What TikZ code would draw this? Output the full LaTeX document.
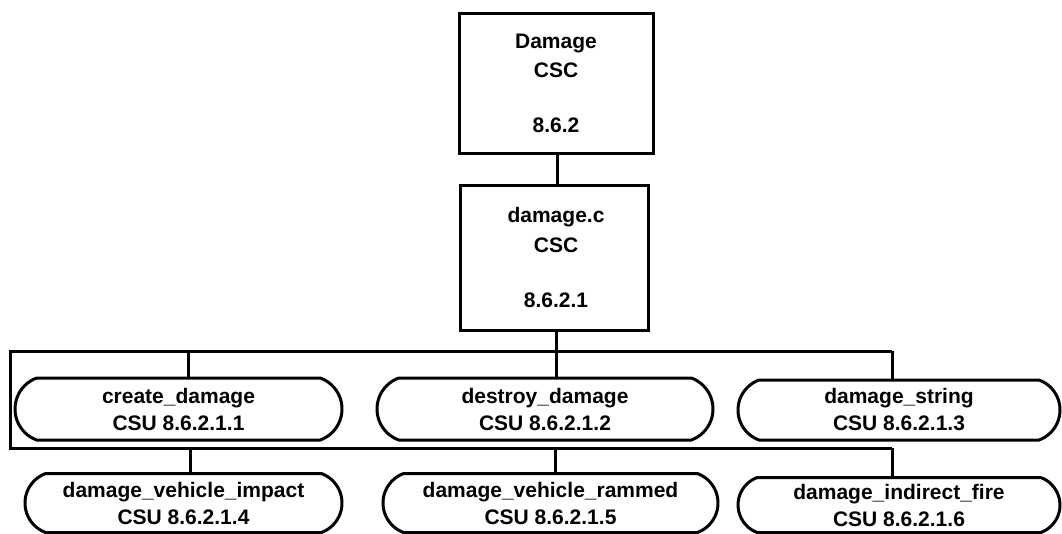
\documentclass[tikz,border=0pt]{standalone}
\usepackage{fontspec}
\setmainfont{Liberation Sans}
\usetikzlibrary{shapes.misc}
\begin{document}
\begin{tikzpicture}[x=1pt,y=-1pt,
  line width=3pt,
  lbl/.style={font=\fontsize{21}{26}\selectfont\bfseries, align=center, inner sep=0pt},
  sqbox/.style={draw, rectangle, inner sep=0pt},
  csu/.style={draw, rounded rectangle, rounded rectangle arc length=140, inner sep=0pt,
     font=\fontsize{21}{27}\selectfont\bfseries, align=center},
  wire/.style={line width=3pt}]
\useasboundingbox (0,0) rectangle (1062,533);

% CSC boxes
\node[sqbox, minimum width=194pt, minimum height=140pt] (top) at (556,83) {};
\node[lbl, anchor=base] (topa) at (556,48) {Damage};
\node[lbl, anchor=base] (topb) at (556,77) {CSC};
\node[lbl, anchor=base] (topc) at (556,132) {8.6.2};

\node[sqbox, minimum width=188pt, minimum height=145pt] (mid) at (554,257.5) {};
\node[lbl, anchor=base] (mida) at (556,222) {damage.c};
\node[lbl, anchor=base] (midb) at (556,252) {CSC};
\node[lbl, anchor=base] (midc) at (556,307) {8.6.2.1};

% CSU boxes
\node[csu, minimum width=327pt, minimum height=62pt] (cd)  at (178.5,409) {create\_damage\\CSU 8.6.2.1.1};
\node[csu, minimum width=336pt, minimum height=62pt] (dd)  at (545,409)   {destroy\_damage\\CSU 8.6.2.1.2};
\node[csu, minimum width=322pt, minimum height=60pt] (ds)  at (899,410)   {damage\_string\\CSU 8.6.2.1.3};
\node[csu, minimum width=317pt, minimum height=59pt] (dvi) at (183.5,503) {damage\_vehicle\_impact\\CSU 8.6.2.1.4};
\node[csu, minimum width=335pt, minimum height=59pt] (dvr) at (550.5,503) {damage\_vehicle\_rammed\\CSU 8.6.2.1.5};
\node[csu, minimum width=322pt, minimum height=55pt] (dif) at (899,505)   {damage\_indirect\_fire\\CSU 8.6.2.1.6};

% bus coordinates
\coordinate (tl) at (10,351);
\coordinate (tr) at (892,351);
\coordinate (bl) at (10,448);
\coordinate (br) at (892,448);
\coordinate (t1) at (188,351);
\coordinate (t2) at (556,351);
\coordinate (b1) at (190,448);
\coordinate (b2) at (555,448);

% connectors
\draw[wire] (top.south -| 557,0) -- (mid.north -| 557,0);
\draw[wire] (t2) -- (mid.south -| t2);
\draw[wire] (tr) -- (tl) -- (bl) -- (br);
\draw[wire] (t1) -- (t1 |- cd.north);
\draw[wire] (t2) -- (t2 |- dd.north);
\draw[wire] (tr) -- (tr |- ds.north);
\draw[wire] (b1) -- (b1 |- dvi.north);
\draw[wire] (b2) -- (b2 |- dvr.north);
\draw[wire] (br) -- (br |- dif.north);
\end{tikzpicture}
\end{document}
